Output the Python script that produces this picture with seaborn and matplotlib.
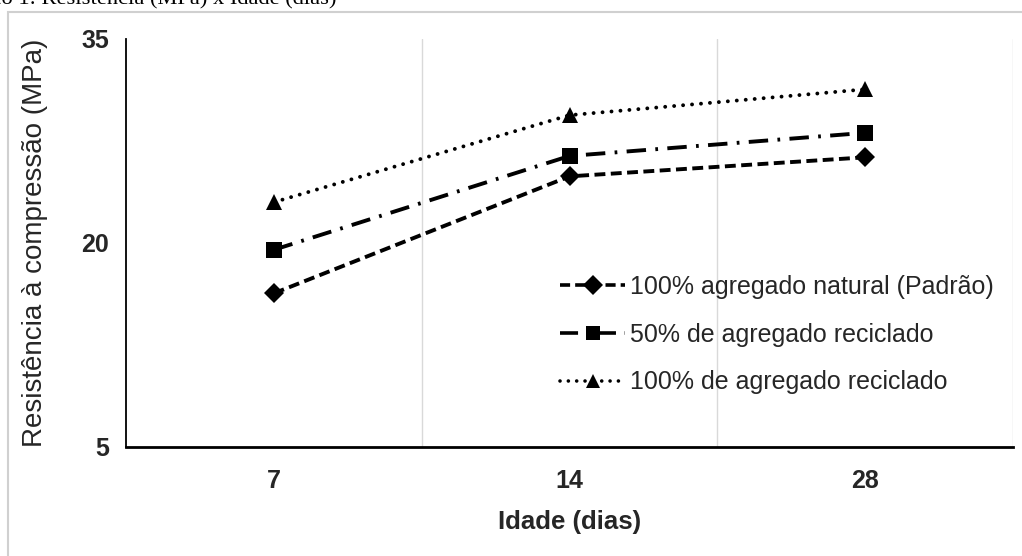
import matplotlib
matplotlib.use("Agg")
import matplotlib.pyplot as plt
from matplotlib.patches import Rectangle
import numpy as np
import pandas as pd
import seaborn as sns

# ---- data ----
idades = ["7", "14", "28"]
natural_100 = [16.3, 24.9, 26.3]
reciclado_50 = [19.5, 26.4, 28.1]
reciclado_100 = [23.0, 29.4, 31.3]
series_names = ["100% agregado natural (Padrão)",
                "50% de agregado reciclado",
                "100% de agregado reciclado"]
y_ticks = [5, 20, 35]

rows = []
for name, vals in zip(series_names, [natural_100, reciclado_50, reciclado_100]):
    for i, v in enumerate(vals):
        rows.append({"pos": i, "Resistência": v, "Série": name})
df = pd.DataFrame(rows)

sns.set_theme(style="white")
plt.rcParams['font.family'] = ['Liberation Sans', 'DejaVu Sans']

fig = plt.figure(figsize=(10.22, 5.56), dpi=100)
# outer light grey frame
fig.patches.append(Rectangle((8/1022, -0.05), 1.2, 1 - 12/556 + 0.05,
                             transform=fig.transFigure, fill=False,
                             edgecolor="#d0d0d0", linewidth=1.5))
fig.text(336/1022, 1 - 4/556, "Gráfico 1: Resistência (MPa) x Idade (dias)",
         ha="right", va="baseline", fontsize=16.2, family="Liberation Serif",
         color="black")

ax = fig.add_axes([126/1022, 1 - 447/556, (1013 - 126)/1022, (447 - 39)/556])

markers = {series_names[0]: "D", series_names[1]: "s", series_names[2]: "^"}
dashes = {series_names[0]: (2.8, 1.4),
          series_names[1]: (5, 2.4, 0.7, 2.4),
          series_names[2]: (0.01, 2.3)}
sns.lineplot(data=df, x="pos", y="Resistência", style="Série",
             markers=markers, dashes=dashes, color="black", ax=ax,
             linewidth=2.8, markersize=12, markeredgewidth=0, legend=True)

for line in ax.get_lines():
    if line.get_marker() == "^":
        line.set_dash_capstyle("round")
    if line.get_marker() == "D":
        line.set_markersize(10.5)

ax.set_xlim(-0.5, 2.5)
ax.set_ylim(5, 35)
ax.set_xticks(range(len(idades)))
ax.set_xticklabels(idades, fontsize=18, fontweight="bold")
ax.set_yticks(y_ticks)
ax.set_yticklabels([str(t) for t in y_ticks], fontsize=18, fontweight="bold")
ax.tick_params(length=0)
ax.tick_params(axis="x", pad=16)
ax.tick_params(axis="y", pad=12)
for b in [0.5, 1.5, 2.5]:
    ax.axvline(b, color="#d9d9d9", linewidth=1, zorder=0)

ax.set_xlabel("Idade (dias)", fontsize=18.5, fontweight="bold", labelpad=12)
ax.set_ylabel("Resistência à compressão (MPa)", fontsize=20, labelpad=24)

for s in ["top", "right"]:
    ax.spines[s].set_visible(False)
ax.spines["left"].set_color("black")
ax.spines["left"].set_linewidth(1.3)
ax.spines["bottom"].set_color("black")
ax.spines["bottom"].set_linewidth(2)

handles, labels = ax.get_legend_handles_labels()
leg = ax.legend(handles, labels, loc="upper left",
                bbox_to_anchor=((550 - 126)/887, 1 - (265 - 39)/408),
                frameon=False, fontsize=18, handlelength=2.6,
                handletextpad=0.2, labelspacing=0.95, borderaxespad=0)
for lh in leg.get_lines():
    lh.set_markersize(10)
    lh.set_linewidth(2.6)
    if lh.get_marker() == "^":
        lh.set_dash_capstyle("round")

fig.savefig("out.png", dpi=100)
